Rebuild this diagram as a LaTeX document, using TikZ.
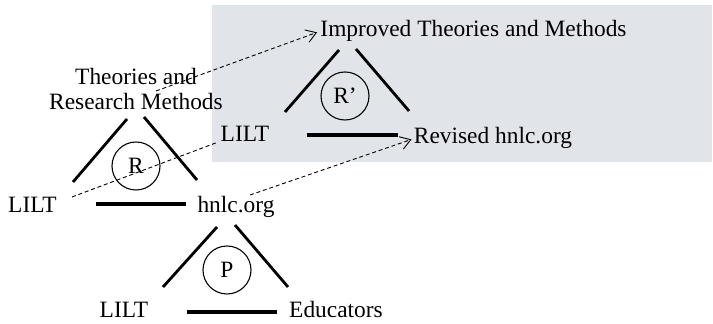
\documentclass[tikz,border=0pt]{standalone}
\usepackage{fontspec}
\setmainfont{Liberation Serif}
\usetikzlibrary{arrows.meta,calc}
\definecolor{panel}{RGB}{225,228,233}
\begin{document}
\begin{tikzpicture}[x=0.5pt,y=-0.5pt,
  every node/.style={font=\fontsize{11.7}{12.5}\selectfont, inner sep=0pt},
  lbl/.style={anchor=base},
  side/.style={line width=1.4pt},
  basel/.style={line width=1.9pt},
  ring/.style={draw, circle, line width=0.55pt, minimum size=24pt},
  flow/.style={line width=0.45pt, dash pattern=on 2pt off 1.4pt,
    -{Straight Barb[length=5pt,width=6.5pt,line width=0.45pt]}},
  flowplain/.style={line width=0.45pt, dash pattern=on 2pt off 1.4pt}]
\useasboundingbox (0,0) rectangle (713,324);
\fill[panel] (212,5) rectangle (712,162);

% texts
\node[lbl] (imp) at (473.5,37) {Improved Theories and Methods};
\node[anchor=north, align=center] (trm) at (136,68) {Theories and\\Research Methods};
\node[lbl] (lilt1) at (32.5,213) {LILT};
\node[lbl] (hnlc) at (236,213) {hnlc.org};
\node[lbl] (lilt2) at (245,142) {LILT};
\node[lbl] (rev) at (493,144) {Revised hnlc.org};
\node[lbl] (lilt3) at (124,318) {LILT};
\node[lbl] (edu) at (336,318) {Educators};

% circles
\node[ring] (cR) at (136,166) {R};
\node[ring] (cRp) at (345,96) {R’};
\node[ring] (cP) at (227,270) {P};

% triangle R
\draw[side] (73,182) -- (127,119);
\draw[side] (144,117) -- (197,180);
\draw[basel] (96,204) -- (186,204);
% triangle R'
\draw[side] (285,112) -- (339,50);
\draw[side] (356,49) -- (409,111);
\draw[basel] (307,135) -- (398,135);
% triangle P
\draw[side] (163,287) -- (217,227);
\draw[side] (235,225) -- (288,287);
\draw[basel] (187,312) -- (277,312);

% dashed connectors
\coordinate (s1) at (156,91);
\coordinate (s2) at (72,197);
\coordinate (s3) at (250,195);
\draw[flow] (s1) -- ($(imp.west)+(-3,1)$);
\draw[flowplain] (s2) -- ($(lilt2.base west)+(-2,0)$);
\draw[flow] (s3) -- ($(rev.west)+(-2,1)$);
\end{tikzpicture}
\end{document}
